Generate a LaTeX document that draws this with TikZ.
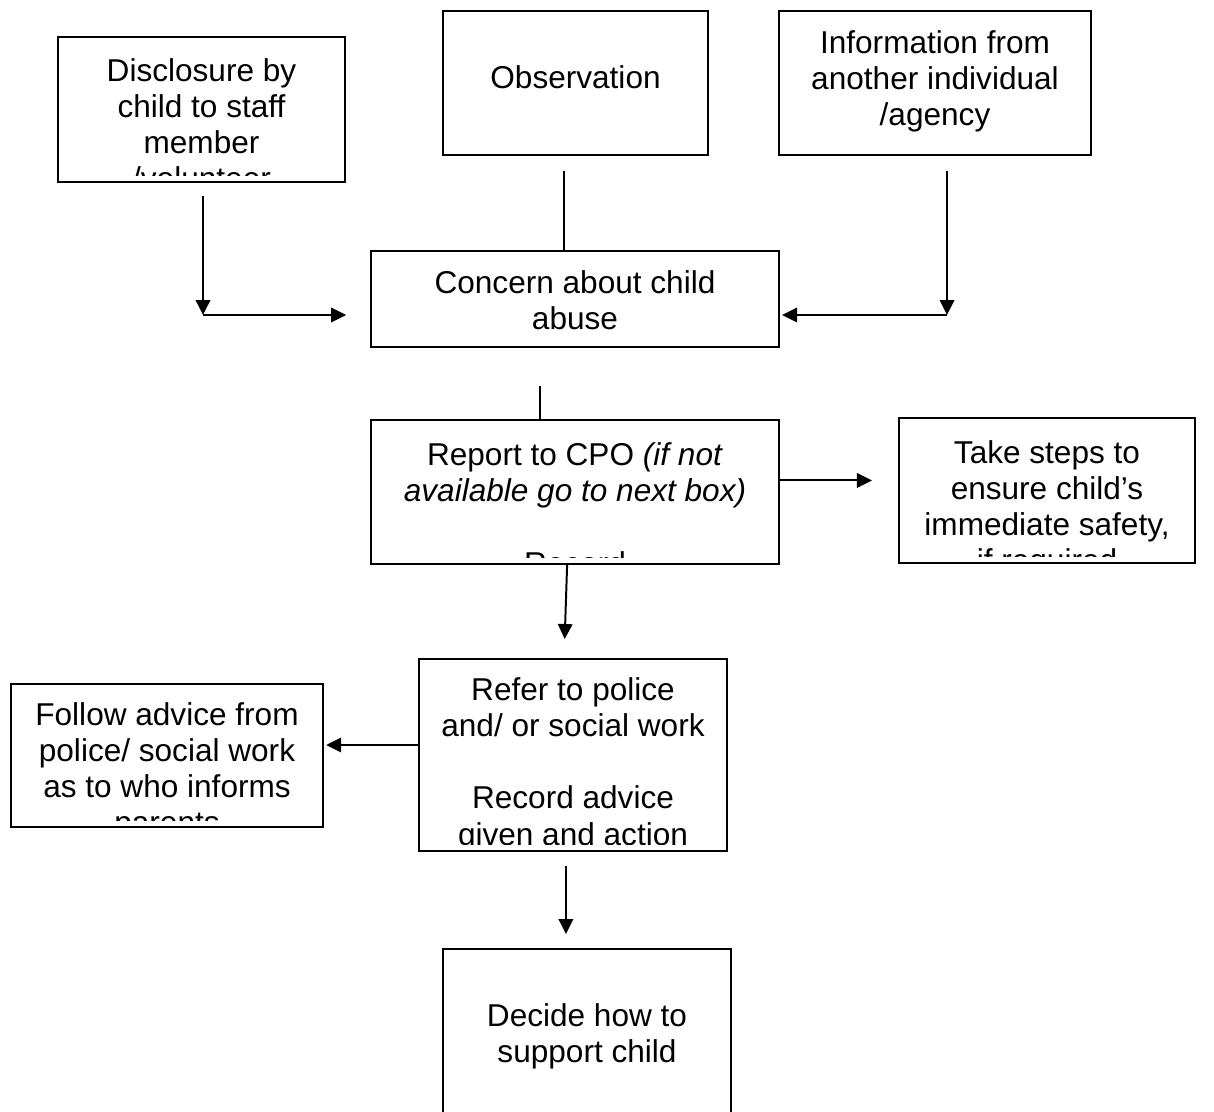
\documentclass[tikz,border=0pt]{standalone}
\usepackage{fontspec}
\setmainfont{Liberation Sans}
\usetikzlibrary{arrows.meta}
\usetikzlibrary{calc}

\begin{document}
\begin{tikzpicture}[x=0.38pt, y=-0.38pt, line width=0.75pt, >={Triangle[length=5.7pt, width=5.5pt]},
    box/.style = {draw, rectangle, inner sep=0pt},
    txt/.style = {anchor=north, align=center, inner sep=0pt, font=\fontsize{12}{13.8}\selectfont}]

    \useasboundingbox (0,0) rectangle (1214,1111);

    \node [box, minimum width=109.1pt, minimum height=55.1pt] (disc) at (201.5, 109.5) {};
    \node [box, minimum width=100.7pt, minimum height=54.7pt] (obs) at (575.5, 83) {};
    \node [box, minimum width=118.6pt, minimum height=54.7pt] (info) at (935, 83) {};
    \node [box, minimum width=155.0pt, minimum height=36.5pt] (concern) at (575, 299) {};
    \node [box, minimum width=155.0pt, minimum height=54.7pt] (report) at (575, 492) {};
    \node [box, minimum width=112.5pt, minimum height=55.1pt] (steps) at (1047, 490.5) {};
    \node [box, minimum width=117.0pt, minimum height=73.0pt] (refer) at (573, 755) {};
    \node [box, minimum width=118.6pt, minimum height=54.3pt] (follow) at (167, 755.5) {};
    \node [box, minimum width=109.4pt, minimum height=63.1pt] (decide) at (587, 1032) {};

    % texts, cut off at the bottom of their box
    \begin{scope}
        \clip (disc.north west) rectangle ([yshift=2.7pt]disc.south east);
        \node [txt] (disc-t) at (201.5, 54.6) {\strut Disclosure by\\ child to staff\\ member\\ /volunteer};
    \end{scope}
    \node [txt] (obs-t) at (575.5, 61.6) {\strut Observation};
    \node [txt] (info-t) at (935, 26.6) {\strut Information from\\ another individual\\ /agency};
    \node [txt] (concern-t) at (575, 266.6) {\strut Concern about child\\ abuse};
    \begin{scope}
        \clip (report.north west) rectangle ([yshift=2.7pt]report.south east);
        \node [txt] (report-t) at (575, 439) {\strut Report to CPO \textit{(if not}\\ \textit{available go to next box)}\\[13.8pt] Record};
    \end{scope}
    \begin{scope}
        \clip (steps.north west) rectangle ([yshift=2.7pt]steps.south east);
        \node [txt] (steps-t) at (1047, 436.6) {\strut Take steps to\\ ensure child’s\\ immediate safety,\\ if required};
    \end{scope}
    \begin{scope}
        \clip (refer.north west) rectangle ([yshift=2.7pt]refer.south east);
        \node [txt] (refer-t) at (573, 673.6) {\strut Refer to police\\ and/ or social work\\[13.8pt] Record advice\\ given and action};
    \end{scope}
    \begin{scope}
        \clip (follow.north west) rectangle ([yshift=2.7pt]follow.south east);
        \node [txt] (follow-t) at (167, 698.6) {\strut Follow advice from\\ police/ social work\\ as to who informs\\ parents};
    \end{scope}
    \node [txt] (decide-t) at (587, 999.6) {\strut Decide how to\\ support child};

    % connectors
    \coordinate (jl) at (203, 315);
    \coordinate (jr) at (947, 315);

    \draw[->, shorten <=4.9pt] (disc.south -| jl) -- (jl);
    \draw[->, shorten >=9.1pt] (jl) -- (jl -| concern.west);
    \draw[->, shorten <=5.7pt] (info.south -| jr) -- (jr);
    \draw[->, shorten >=0.8pt] (jr) -- (jr -| concern.east);
    \draw[shorten <=5.7pt] ([xshift=-4.2pt]obs.south) -- ([xshift=-4.2pt]obs.south |- concern.north);
    \draw[shorten <=14.4pt] ([xshift=-13.3pt]concern.south) -- ([xshift=-13.3pt]report.north);
    \draw[->, shorten >=9.9pt] ([yshift=4.4pt]report.east) -- ([yshift=4.4pt]report.east -| steps.west);
    \draw[->, shorten >=7.2pt] ([xshift=-3pt]report.south) -- ([xshift=-3.4pt]refer.north);
    \draw[->, shorten >=0.8pt] ([yshift=3.8pt]refer.west) -- ([yshift=3.8pt]refer.west -| follow.east);
    \draw[->, shorten <=5.3pt, shorten >=5.3pt] ([xshift=-2.7pt]refer.south) -- ([xshift=-2.7pt]refer.south |- decide.north);

\end{tikzpicture}
\end{document}
